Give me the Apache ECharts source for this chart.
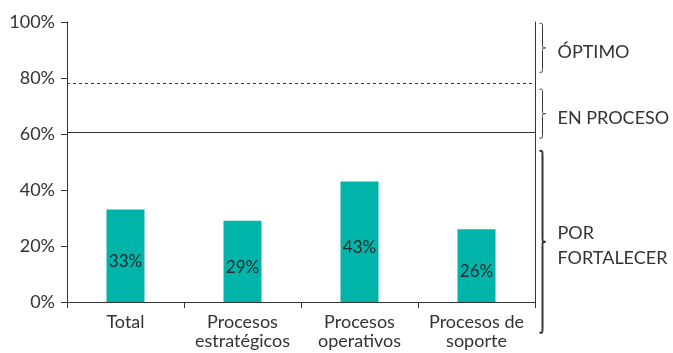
<!DOCTYPE html>
<html>
<head>
<meta charset="utf-8">
<script src="https://cdn.jsdelivr.net/npm/echarts@6/dist/echarts.min.js"></script>
<style>
  html, body { margin: 0; padding: 0; background: #ffffff; }
  #chart { width: 673px; height: 353px; }
</style>
</head>
<body>
<div id="chart"></div>
<script>
// Categories and achievement values (percent)
var categories = ['Total', 'Procesos\nestratégicos', 'Procesos\noperativos', 'Procesos de\nsoporte'];
var values = [33, 29, 43, 26];

// Y axis ticks
var yTicks = [0, 20, 40, 60, 80, 100];

// Level thresholds (percent)
var thresholdOptimo = 78;
var thresholdProceso = 60.5;

// Bands shown with braces on the right: [top, bottom] in percent, plus label
var bandNames = ['ÓPTIMO', 'EN PROCESO', 'POR\nFORTALECER'];
var bandRanges = [[99.5, 82], [76, 58.5], [54, -11]];

var FONT = 'Lato';
var INK = '#333333';
var TEAL = '#00b4aa';

var chart = echarts.init(document.getElementById('chart'), null, { renderer: 'canvas' });

var option = {
  animation: false,
  backgroundColor: '#ffffff',
  grid: { left: 67, right: 138, top: 22, bottom: 51, containLabel: false },
  xAxis: [
    {
      type: 'category',
      data: categories,
      position: 'bottom',
      boundaryGap: true,
      axisLine: { show: true, lineStyle: { color: INK, width: 1 } },
      axisTick: { show: true, length: 6, inside: false, lineStyle: { color: INK } },
      axisLabel: {
        interval: 0, margin: 11, color: INK,
        fontFamily: FONT, fontSize: 18, lineHeight: 19
      },
      splitLine: { show: false }
    },
    {
      type: 'category',
      data: categories,
      position: 'top',
      axisLine: { show: true, lineStyle: { color: INK, width: 1 } },
      axisTick: { show: false },
      axisLabel: { show: false },
      splitLine: { show: false }
    }
  ],
  yAxis: [
    {
      type: 'value',
      min: yTicks[0],
      max: yTicks[yTicks.length - 1],
      interval: yTicks[1] - yTicks[0],
      axisLine: { show: true, lineStyle: { color: INK, width: 1 } },
      axisTick: { show: true, length: 6, lineStyle: { color: INK } },
      axisLabel: {
        margin: 12, color: INK, fontFamily: FONT, fontSize: 18,
        formatter: '{value}%'
      },
      splitLine: { show: false }
    },
    {
      type: 'value',
      position: 'right',
      min: yTicks[0],
      max: yTicks[yTicks.length - 1],
      interval: yTicks[1] - yTicks[0],
      axisLine: { show: true, lineStyle: { color: INK, width: 1 } },
      axisTick: { show: false },
      axisLabel: { show: false },
      splitLine: { show: false }
    }
  ],
  series: [
    {
      type: 'bar',
      data: values,
      barWidth: 38,
      itemStyle: { color: TEAL },
      label: {
        show: true,
        position: 'inside',
        offset: [0, 6],
        formatter: '{c}%',
        color: '#2a2a2a',
        fontFamily: FONT,
        fontSize: 17
      },
      markLine: {
        silent: true,
        symbol: 'none',
        label: { show: false },
        data: [
          { yAxis: thresholdOptimo, lineStyle: { type: [3, 3], color: INK, width: 1 } },
          { yAxis: thresholdProceso, lineStyle: { type: 'solid', color: INK, width: 1 } }
        ]
      }
    }
  ]
};

chart.setOption(option);

// Right-facing curly brace made of bezier segments
function brace(x0, ya, yb, w, r, lw) {
  var xs = x0 + w / 2;
  var xt = x0 + w;
  var ym = (ya + yb) / 2;
  var style = { stroke: INK, lineWidth: lw, fill: null };
  return [
    { type: 'bezierCurve', shape: { x1: x0, y1: ya, x2: xs, y2: ya + r, cpx1: xs, cpy1: ya, cpx2: xs, cpy2: ya }, style: style },
    { type: 'line', shape: { x1: xs, y1: ya + r, x2: xs, y2: ym - r }, style: style },
    { type: 'bezierCurve', shape: { x1: xs, y1: ym - r, x2: xt, y2: ym, cpx1: xs, cpy1: ym, cpx2: xs, cpy2: ym }, style: style },
    { type: 'bezierCurve', shape: { x1: xt, y1: ym, x2: xs, y2: ym + r, cpx1: xs, cpy1: ym, cpx2: xs, cpy2: ym }, style: style },
    { type: 'line', shape: { x1: xs, y1: ym + r, x2: xs, y2: yb - r }, style: style },
    { type: 'bezierCurve', shape: { x1: xs, y1: yb - r, x2: x0, y2: yb, cpx1: xs, cpy1: yb, cpx2: xs, cpy2: yb }, style: style }
  ];
}

var elements = [];
var braceX = chart.convertToPixel({ xAxisIndex: 0 }, categories[categories.length - 1]) + 63;
for (var i = 0; i < bandRanges.length; i++) {
  var ya = chart.convertToPixel({ yAxisIndex: 0 }, bandRanges[i][0]);
  var yb = chart.convertToPixel({ yAxisIndex: 0 }, bandRanges[i][1]);
  var lw = i === bandRanges.length - 1 ? 2 : 1;
  elements = elements.concat(brace(braceX, ya, yb, 6, 4, lw));
  elements.push({
    type: 'text',
    x: braceX + 18,
    y: (ya + yb) / 2 + 4,
    style: {
      text: bandNames[i],
      fill: INK,
      font: '18px ' + FONT,
      lineHeight: 25,
      verticalAlign: 'middle',
      align: 'left'
    }
  });
}
chart.setOption({ graphic: { elements: elements } });
</script>
</body>
</html>
